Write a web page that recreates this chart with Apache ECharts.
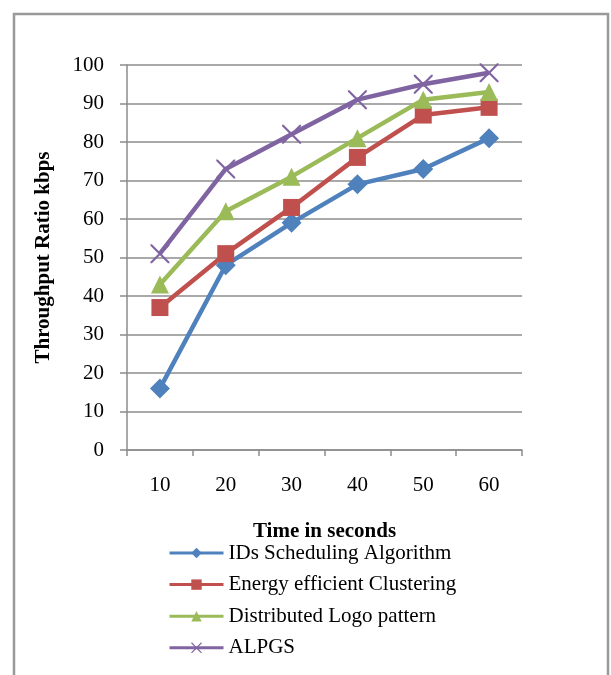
<!DOCTYPE html>
<html>
<head>
<meta charset="utf-8">
<script src="https://cdn.jsdelivr.net/npm/echarts@6/dist/echarts.min.js"></script>
<style>
html,body{margin:0;padding:0;background:#fff;}
#chart{width:611px;height:675px;}
</style>
</head>
<body>
<div id="chart"></div>
<script>
const categories = ['10', '20', '30', '40', '50', '60'];
const idsScheduling = [16, 48, 59, 69, 73, 81];
const energyClustering = [37, 51, 63, 76, 87, 89];
const distributedLogo = [43, 62, 71, 81, 91, 93];
const alpgs = [51, 73, 82, 91, 95, 98];
const seriesNames = ['IDs Scheduling Algorithm', 'Energy efficient Clustering', 'Distributed Logo pattern', 'ALPGS'];
const colors = ['#4F81BD', '#C0504D', '#9BBB59', '#8064A2'];

const crossPath = 'path://M0,0 L1.6,0 L10,8.4 L18.4,0 L20,0 L20,1.6 L11.6,10 L20,18.4 L20,20 L18.4,20 L10,11.6 L1.6,20 L0,20 L0,18.4 L8.4,10 L0,1.6 Z';
const FONT = '"Liberation Serif", "Times New Roman", serif';

const chart = echarts.init(document.getElementById('chart'), null, {renderer: 'canvas'});

function mk(name, data, color, symbol, size) {
  return {
    name: name,
    type: 'line',
    data: data,
    symbol: symbol,
    symbolSize: size,
    showAllSymbol: true,
    lineStyle: {color: color, width: 4.5},
    itemStyle: {color: color},
    z: 3
  };
}

chart.setOption({
  animation: false,
  color: colors,
  textStyle: {fontFamily: FONT},
  graphic: [{
    type: 'rect',
    shape: {x: 14, y: 14, width: 594, height: 700},
    style: {fill: 'none', stroke: '#999999', lineWidth: 2.5},
    silent: true
  }],
  grid: {left: 127, right: 89, top: 65, bottom: 225, containLabel: false},
  xAxis: {
    type: 'category',
    data: categories,
    boundaryGap: true,
    name: 'Time in seconds',
    nameLocation: 'middle',
    nameGap: 71,
    nameTextStyle: {fontFamily: FONT, fontSize: 21, fontWeight: 'bold', color: '#000'},
    axisLine: {lineStyle: {color: '#8c8c8c', width: 1.5}},
    axisTick: {show: true, alignWithLabel: false, length: 6, lineStyle: {color: '#8c8c8c', width: 1.5}},
    axisLabel: {fontFamily: FONT, fontSize: 21, color: '#000', margin: 25},
    splitLine: {show: false}
  },
  yAxis: {
    type: 'value',
    min: 0,
    max: 100,
    interval: 10,
    name: 'Throughput Ratio kbps',
    nameLocation: 'middle',
    nameGap: 73,
    nameRotate: 90,
    nameTextStyle: {fontFamily: FONT, fontSize: 21, fontWeight: 'bold', color: '#000'},
    axisLine: {show: true, lineStyle: {color: '#8c8c8c', width: 1.5}},
    axisTick: {show: true, length: 7, lineStyle: {color: '#8c8c8c', width: 1.5}},
    axisLabel: {fontFamily: FONT, fontSize: 21, color: '#000', margin: 23},
    splitLine: {show: true, lineStyle: {color: '#8c8c8c', width: 1.5}}
  },
  legend: {
    orient: 'vertical',
    left: 168,
    top: 542,
    padding: 0,
    itemWidth: 54,
    itemHeight: 13,
    itemGap: 9.6,
    textStyle: {fontFamily: FONT, fontSize: 21, color: '#000', lineHeight: 22},
    lineStyle: {width: 3},
    data: seriesNames
  },
  series: [
    mk(seriesNames[0], idsScheduling, colors[0], 'diamond', 20),
    mk(seriesNames[1], energyClustering, colors[1], 'rect', 17),
    mk(seriesNames[2], distributedLogo, colors[2], 'triangle', 18),
    mk(seriesNames[3], alpgs, colors[3], crossPath, 19)
  ]
});
</script>
</body>
</html>
